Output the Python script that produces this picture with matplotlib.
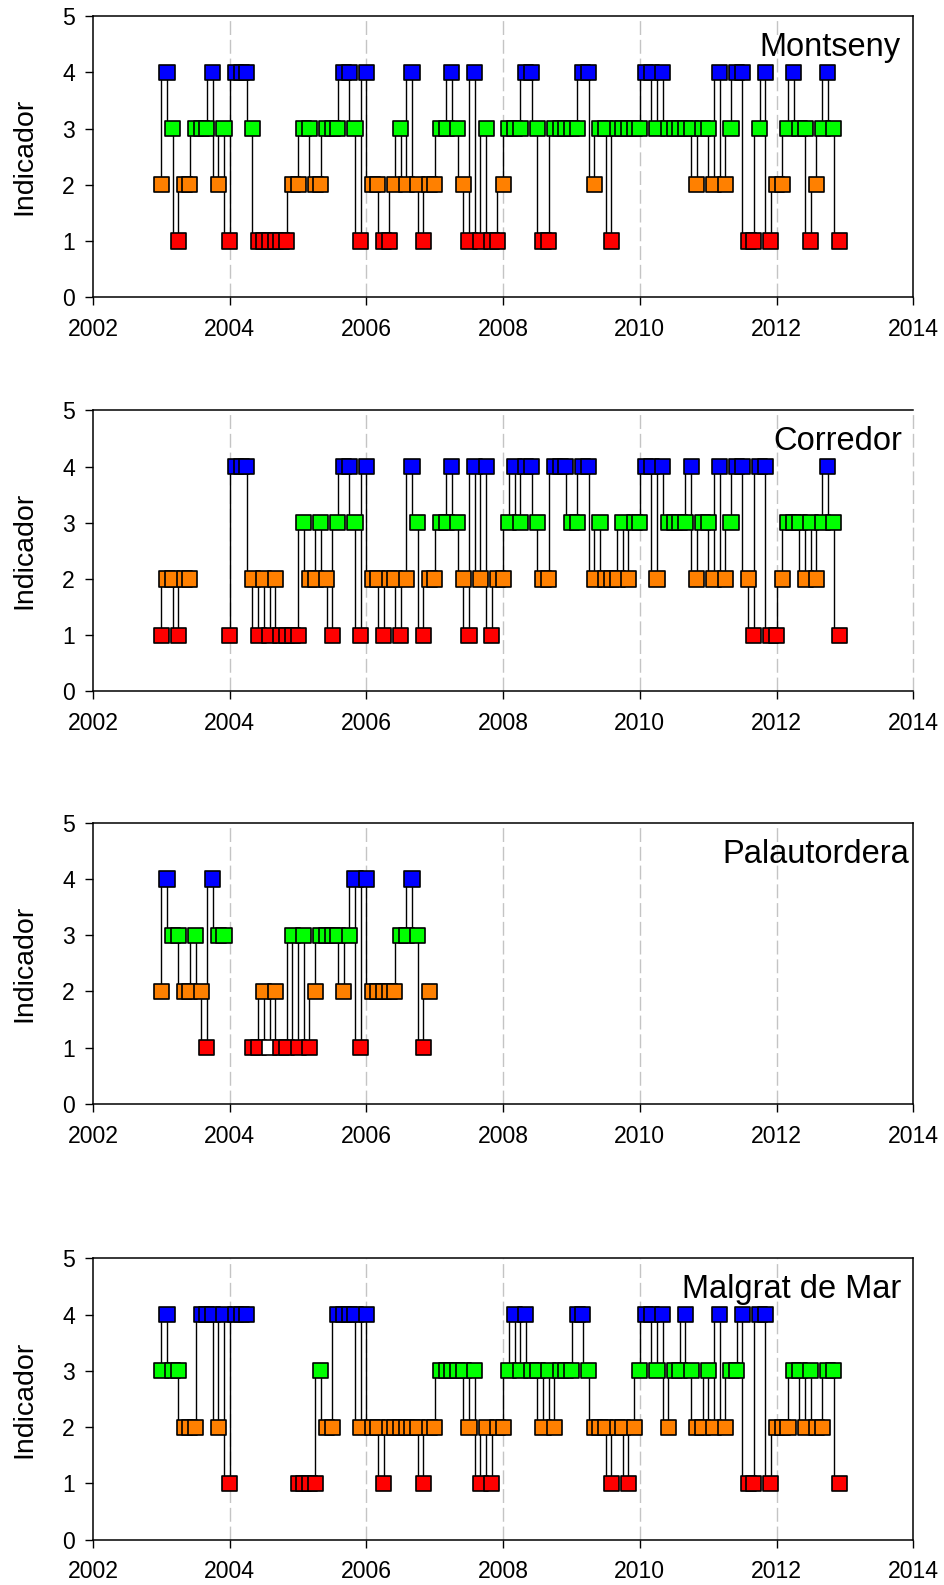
import numpy as np
import matplotlib
matplotlib.use("Agg")
import matplotlib.pyplot as plt
import matplotlib.transforms as mtransforms

plt.rcParams['font.family'] = ['Liberation Sans', 'DejaVu Sans']

N = np.nan

# monthly indicator values, first month = Jan 2003 (N = no sample)
sites = ["Montseny", "Corredor", "Palautordera", "Malgrat de Mar"]

montseny = [2, 4, 3, 1, 2, 2, 3, 3, 3, 4,
            2, 3, 1, 4, 4, 4, 3, 1, 1, 1,
            1, 1, 1, 2, 2, 3, 3, 2, 2, 3,
            3, 3, 4, 4, 3, 1, 4, 2, 2, 1,
            1, 2, 3, 2, 4, 2, 1, 2, 2, 3,
            3, 4, 3, 2, 1, 4, 1, 3, 1, 1,
            2, 3, 3, 3, 4, 4, 3, 1, 1, 3,
            3, 3, 3, 3, 4, 4, 2, 3, 3, 1,
            3, 3, 3, 3, 3, 4, 4, 3, 4, 3,
            3, 3, 3, 3, 2, 3, 3, 2, 4, 2,
            3, 4, 4, 1, 1, 3, 4, 1, 2, 2,
            3, 4, 3, 3, 1, 2, 3, 4, 3, 1]

corredor = [1, 2, 2, 1, 2, 2, N, N, N, N,
            N, N, 1, 4, 4, 4, 2, 1, 2, 1,
            2, 1, 1, 1, 1, 3, 2, 2, 3, 2,
            1, 3, 4, 4, 3, 1, 4, 2, 2, 1,
            2, 2, 1, 2, 4, 3, 1, 2, 2, 3,
            3, 4, 3, 2, 1, 4, 2, 4, 1, 2,
            2, 3, 4, 3, 4, 4, 3, 2, 2, 4,
            4, 4, 3, 3, 4, 4, 2, 3, 2, 2,
            2, 3, 2, 3, 3, 4, 4, 2, 4, 3,
            3, 3, 3, 4, 2, 3, 3, 2, 4, 2,
            3, 4, 4, 2, 1, 4, 4, 1, 1, 2,
            3, 3, 3, 2, 3, 2, 3, 4, 3, 1]

palautordera = [2, 4, 3, 3, 2, 2, 3, 2, 1, 4,
                3, 3, N, N, N, N, 1, 1, 2, 1,
                2, 1, 1, 3, 1, 3, 1, 2, 3, 3,
                3, 3, 2, 3, 4, 1, 4, 2, 2, 2,
                2, 2, 3, 3, 4, 3, 1, 2]

malgrat = [3, 4, 3, 3, 2, 2, 2, 4, 4, 4,
           2, 4, 1, 4, 4, 4, N, N, N, N,
           N, N, N, N, 1, 1, 1, 1, 3, 2,
           2, 4, 4, 4, 4, 2, 4, 2, 2, 1,
           2, 2, 2, 2, 2, 2, 1, 2, 2, 3,
           3, 3, 3, 3, 2, 3, 1, 2, 1, 2,
           2, 3, 4, 3, 4, 3, 3, 2, 3, 2,
           3, 3, 3, 4, 4, 3, 2, 2, 2, 1,
           2, 2, 1, 2, 3, 4, 4, 3, 4, 2,
           3, 3, 4, 3, 2, 2, 3, 2, 4, 2,
           3, 3, 4, 1, 1, 4, 4, 1, 2, 2,
           2, 3, 3, 2, 3, 2, 2, 3, 3, 1]

series = [montseny, corredor, palautordera, malgrat]
# months drawn with an empty (white) marker
white_marks = {"Palautordera": [19]}

colors = {1: "#ff0000", 2: "#ff8000", 3: "#00ff00", 4: "#0000ff"}
grid_style = dict(color="#c4c4c4", ls=(0, (10, 3.5)), lw=1.0, zorder=1)

fig = plt.figure(figsize=(9.44, 15.85), dpi=100)
bottoms = [0.8125, 0.5638, 0.3036, 0.0287]
title_x = [0.984, 0.986, 0.9945, 0.985]

for i, (name, vals) in enumerate(zip(sites, series)):
    ax = fig.add_axes([0.0985, bottoms[i], 0.8690, 0.1773])
    y = np.array(vals, dtype=float)
    x = 2003 + np.arange(len(y)) / 12.0

    for g in range(2004, 2013, 2):
        ax.axvline(g, **grid_style)
    if name == "Corredor":
        # right frame of this panel is drawn as a grid line
        ax.spines["right"].set_visible(False)
        ax.axvline(2014, clip_on=False, **grid_style)

    ax.plot(x, y, drawstyle="steps-pre", color="k", lw=1.0, zorder=2)

    ok = ~np.isnan(y)
    cols = [colors[int(v)] if v == v else "none" for v in y]
    for k in white_marks.get(name, []):
        cols[k] = "white"
    cols = [c for c, m in zip(cols, ok) if m]
    ax.scatter(x[ok], y[ok], marker="s", s=118, c=cols, edgecolors="k",
               linewidths=1.2, zorder=3)

    ax.set_xlim(2002, 2014)
    ax.set_ylim(0, 5)
    ax.set_xticks(range(2002, 2015, 2))
    ax.set_yticks(range(0, 6))
    ax.tick_params(direction="out", length=6, width=1, labelsize=16.6)
    ax.tick_params(axis="x", pad=9)
    ax.tick_params(axis="y", pad=7)
    for s in ax.spines.values():
        s.set_linewidth(1.1)
    ax.set_ylabel("Indicador", fontsize=20.5, labelpad=18)

    trans = mtransforms.blended_transform_factory(ax.transAxes, ax.transData)
    ax.text(title_x[i], 4.44, name, transform=trans, ha="right", va="center",
            fontsize=23.5)

fig.savefig("out.png", dpi=100)
